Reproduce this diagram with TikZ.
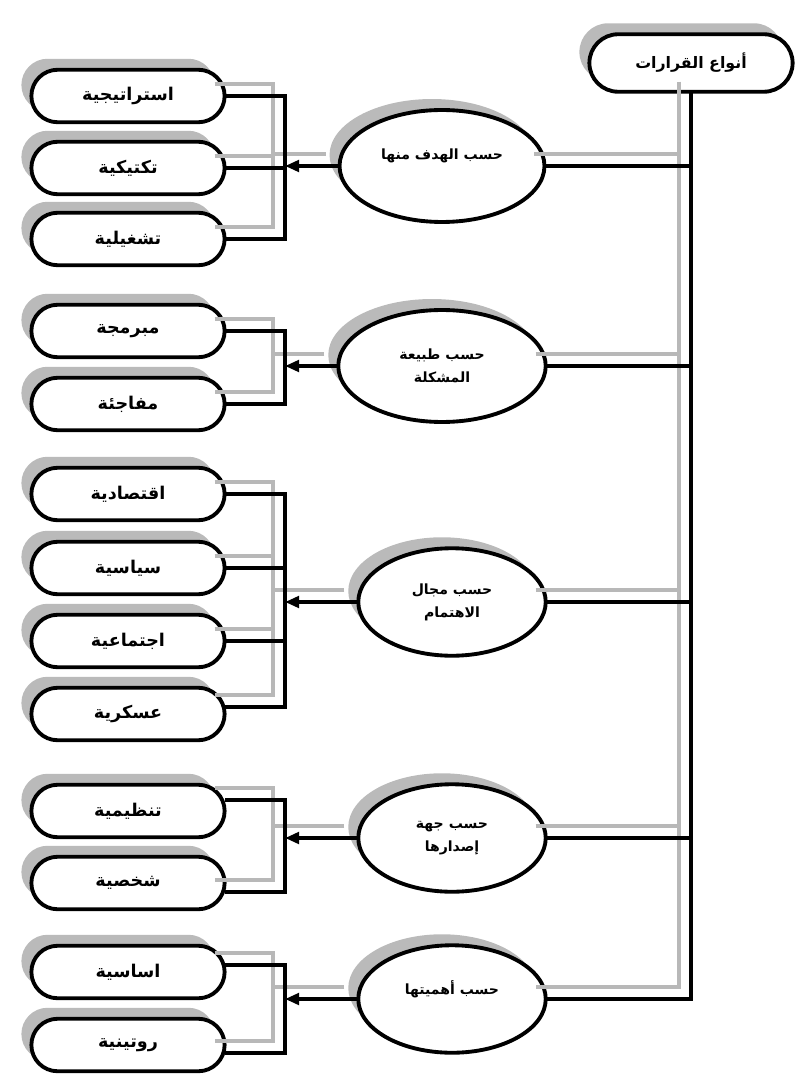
\documentclass[tikz,border=0pt]{standalone}
\usepackage{fontspec}
\newfontfamily\arabicfont[Script=Arabic]{DejaVu Sans}
\TeXXeTstate=1
\usetikzlibrary{arrows.meta}
\usetikzlibrary{shapes.misc}
\usetikzlibrary{shapes.geometric}
\usetikzlibrary{shadows}

\newcommand{\artext}[1]{{\arabicfont\bfseries\beginR #1\endR}}

\tikzset{
    pill/.style={rounded rectangle, draw, line width=2.2pt, fill=white,
        minimum width=4.1cm, minimum height=1.05cm,
        drop shadow={shadow xshift=-0.2cm, shadow yshift=0.22cm, fill=black!27, opacity=1},
        font=\fontsize{10}{13}\selectfont},
    oval/.style={ellipse, draw, line width=2.2pt, fill=white, align=center,
        minimum width=3.75cm, minimum height=2.15cm,
        drop shadow={shadow xshift=-0.2cm, shadow yshift=0.22cm, fill=black!27, opacity=1},
        font=\fontsize{8}{13}\selectfont},
    link/.style={line width=2pt, line cap=rect},
    ghost/.style={line width=2pt, black!28},
    tip/.style={-{Triangle[length=8pt, width=6.5pt]}}
}

\begin{document}
\begin{tikzpicture}[x=0.02cm, y=-0.02cm]
    \useasboundingbox (0,0) rectangle (806,1077);

    \node[pill, minimum width=4.3cm, minimum height=1.15cm, font=\fontsize{9}{13}\selectfont] (root) at (691,63) {\artext{أنواع القرارات}};

    \node[oval, minimum width=4.1cm, minimum height=2.24cm] (e1) at (442,166) {\artext{حسب الهدف منها}\\\mbox{}};
    \node[oval, minimum width=4.15cm, minimum height=2.24cm] (e2) at (442,366) {\artext{حسب طبيعة}\\\artext{المشكلة}};
    \node[oval] (e3) at (452,602) {\artext{حسب مجال}\\\artext{الاهتمام}};
    \node[oval] (e4) at (452,838) {\artext{حسب جهة}\\\artext{إصدارها}};
    \node[oval] (e5) at (452,999) {\artext{حسب أهميتها}\\\mbox{}};

    \node[pill] (s11) at (128,96) {\artext{استراتيجية}};
    \node[pill] (s12) at (128,168) {\artext{تكتيكية}};
    \node[pill] (s13) at (128,239) {\artext{تشغيلية}};

    \node[pill] (s21) at (128,331) {\artext{مبرمجة}};
    \node[pill] (s22) at (128,404) {\artext{مفاجئة}};

    \node[pill] (s31) at (128,494) {\artext{اقتصادية}};
    \node[pill] (s32) at (128,568) {\artext{سياسية}};
    \node[pill] (s33) at (128,641) {\artext{اجتماعية}};
    \node[pill] (s34) at (128,714) {\artext{عسكرية}};

    \node[pill] (s41) at (128,811) {\artext{تنظيمية}};
    \node[pill] (s42) at (128,883) {\artext{شخصية}};

    \node[pill] (s51) at (128,972) {\artext{اساسية}};
    \node[pill] (s52) at (128,1045) {\artext{روتينية}};

    \coordinate (bus) at (285,0);

    % grey copies of the lines, drawn first
    \begin{scope}[transform canvas={xshift=-0.24cm, yshift=0.24cm}, ghost]
        \draw (root.south) |- (e5.east);
        \foreach \e in {e1,e2,e3,e4}
            \draw (\e.east) -- (\e.east -| root.south);
        \foreach \e in {e1,e2,e3,e4,e5}
            \draw (\e.west) -- (\e.west -| bus);
        \draw (s11.east) -| (bus |- s13.east) -- (s13.east);
        \draw (s12.east) -- (s12.east -| bus);
        \draw (s21.east) -| (bus |- s22.east) -- (s22.east);
        \draw (s31.east) -| ([yshift=0.14cm]bus |- s34.east) -- ([yshift=0.14cm]s34.east);
        \draw (s32.east) -- (s32.east -| bus);
        \draw (s33.east) -- (s33.east -| bus);
        \draw ([yshift=0.22cm]s41.east) -| ([yshift=-0.18cm]bus |- s42.east) -- ([yshift=-0.18cm]s42.east);
        \draw ([yshift=0.14cm]s51.east) -| ([yshift=-0.16cm]bus |- s52.east) -- ([yshift=-0.16cm]s52.east);
    \end{scope}

    \draw[link] (root.south) |- (e5.east);
    \foreach \e in {e1,e2,e3,e4}
        \draw[link] (\e.east) -- (\e.east -| root.south);
    \foreach \e in {e1,e2,e3,e4,e5}
        \draw[link, tip] (\e.west) -- (\e.west -| bus);

    \draw[link] (s11.east) -| (bus |- s13.east) -- (s13.east);
    \draw[link] (s12.east) -- (s12.east -| bus);
    \draw[link] (s21.east) -| (bus |- s22.east) -- (s22.east);
    \draw[link] (s31.east) -| ([yshift=0.14cm]bus |- s34.east) -- ([yshift=0.14cm]s34.east);
    \draw[link] (s32.east) -- (s32.east -| bus);
    \draw[link] (s33.east) -- (s33.east -| bus);
    \draw[link] ([yshift=0.22cm]s41.east) -| ([yshift=-0.18cm]bus |- s42.east) -- ([yshift=-0.18cm]s42.east);
    \draw[link] ([yshift=0.14cm]s51.east) -| ([yshift=-0.16cm]bus |- s52.east) -- ([yshift=-0.16cm]s52.east);
\end{tikzpicture}
\end{document}
